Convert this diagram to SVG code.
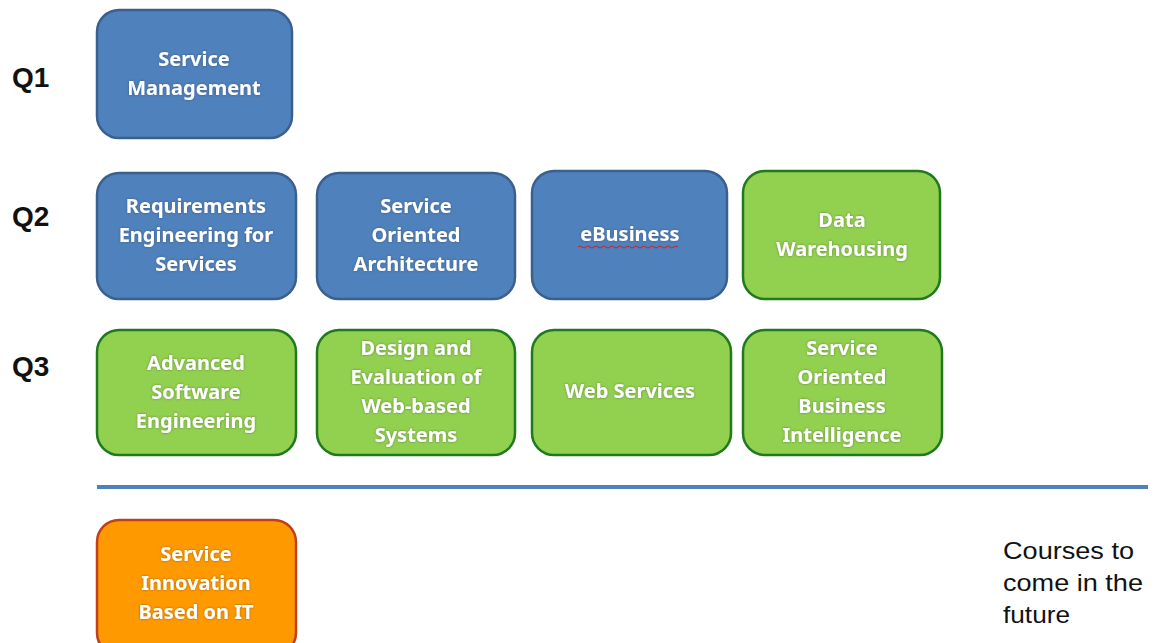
<svg xmlns="http://www.w3.org/2000/svg" width="1154" height="643" viewBox="0 0 1154 643">
<style>
.blue{fill:#4F81BD;stroke:#3A6090;stroke-width:2.5}
.green{fill:#92D050;stroke:#1F7A1F;stroke-width:2.5}
.orange{fill:#FF9900;stroke:#C0401A;stroke-width:2.5}
.t{font-family:"Noto Sans","Open Sans",sans-serif;font-weight:bold;font-size:20px;fill:#fff;text-anchor:middle;filter:url(#glow)}
.q{font-family:"Liberation Sans",Arial,sans-serif;font-weight:bold;font-size:28px;fill:#111}
.c{font-family:"Liberation Sans",Arial,sans-serif;font-size:24px;fill:#111}
</style>
<defs>
<filter id="glow" x="-10%" y="-30%" width="120%" height="160%">
<feDropShadow dx="0" dy="0" stdDeviation="1" flood-color="#333" flood-opacity="0.5"/>
</filter>
</defs>
<rect width="1154" height="643" fill="#fff"/>
<g id="labels">
<text class="q" x="12" y="87">Q1</text>
<text class="q" x="12" y="226">Q2</text>
<text class="q" x="12" y="376">Q3</text>
</g>
<g id="divider"><line x1="97" y1="487" x2="1148" y2="487" stroke="#4F81BD" stroke-width="4"/></g>
<g id="n-service-management"><rect class="blue" x="97" y="10" width="195" height="128" rx="22"/>
<text class="t" x="194" y="66">Service</text><text class="t" x="194" y="95">Management</text></g>
<g id="n-req-eng"><rect class="blue" x="97" y="173" width="199" height="126" rx="22"/>
<text class="t" x="196" y="213">Requirements</text><text class="t" x="196" y="242">Engineering for</text><text class="t" x="196" y="271">Services</text></g>
<g id="n-soa"><rect class="blue" x="317" y="173" width="198" height="126" rx="22"/>
<text class="t" x="416" y="213">Service</text><text class="t" x="416" y="242">Oriented</text><text class="t" x="416" y="271">Architecture</text></g>
<g id="n-ebusiness"><rect class="blue" x="532" y="171" width="195" height="128" rx="22"/>
<text class="t" x="630" y="241">eBusiness</text>
<path d="M578,247 q2,-2 4,0 t4,0 t4,0 t4,0 t4,0 t4,0 t4,0 t4,0 t4,0 t4,0 t4,0 t4,0 t4,0 t4,0 t4,0 t4,0 t4,0 t4,0 t4,0 t4,0 t4,0 t4,0 t4,0 t4,0 t4,0" fill="none" stroke="#D02020" stroke-width="1"/></g>
<g id="n-data-warehousing"><rect class="green" x="743" y="171" width="197" height="128" rx="22"/>
<text class="t" x="842" y="227">Data</text><text class="t" x="842" y="256">Warehousing</text></g>
<g id="n-adv-se"><rect class="green" x="97" y="330" width="199" height="125" rx="22"/>
<text class="t" x="196" y="370">Advanced</text><text class="t" x="196" y="399">Software</text><text class="t" x="196" y="428">Engineering</text></g>
<g id="n-design-eval"><rect class="green" x="317" y="330" width="198" height="125" rx="22"/>
<text class="t" x="416" y="355">Design and</text><text class="t" x="416" y="384">Evaluation of</text><text class="t" x="416" y="413">Web-based</text><text class="t" x="416" y="442">Systems</text></g>
<g id="n-web-services"><rect class="green" x="532" y="330" width="199" height="125" rx="22"/>
<text class="t" x="630" y="398">Web Services</text></g>
<g id="n-sobi"><rect class="green" x="743" y="330" width="199" height="125" rx="22"/>
<text class="t" x="842" y="355">Service</text><text class="t" x="842" y="384">Oriented</text><text class="t" x="842" y="413">Business</text><text class="t" x="842" y="442">Intelligence</text></g>
<g id="n-service-innovation"><rect class="orange" x="97" y="520" width="199" height="135" rx="22"/>
<text class="t" x="196" y="561">Service</text><text class="t" x="196" y="590">Innovation</text><text class="t" x="196" y="619">Based on IT</text></g>
<g id="note"><text class="c" x="1003" y="559" textLength="131" lengthAdjust="spacingAndGlyphs">Courses to</text><text class="c" x="1003" y="591" textLength="140" lengthAdjust="spacingAndGlyphs">come in the</text><text class="c" x="1003" y="623" textLength="67" lengthAdjust="spacingAndGlyphs">future</text></g>
<g id="connectors"></g>
</svg>
